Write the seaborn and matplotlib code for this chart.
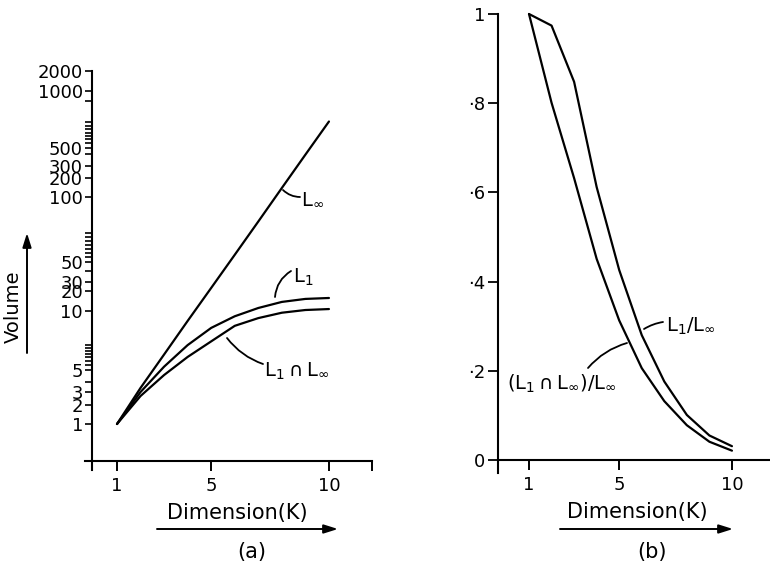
import numpy as np
import matplotlib
matplotlib.use("Agg")
import matplotlib.pyplot as plt
from matplotlib.text import Annotation
import seaborn as sns

# ---------------- data ----------------
K = [1, 2, 3, 4, 5, 6, 7, 8, 9, 10]
L_INF = [1.0, 3.3, 6.0, 8.9, 23.0, 54.0, 77.0, 139.0, 414.0, 690.0]
L_ONE = [1.0, 3.0, 5.2, 6.7, 8.2, 9.4, 11.1, 13.7, 15.2, 15.7]
L_CAP = [1.0, 2.65, 4.45, 5.83, 7.0, 8.4, 9.2, 9.8, 10.35, 10.7]

R_ONE = [1.0, 0.974, 0.848, 0.612, 0.426, 0.280, 0.176, 0.101, 0.055, 0.031]
R_CAP = [1.0, 0.801, 0.632, 0.451, 0.313, 0.206, 0.132, 0.078, 0.041, 0.021]

VOL_TICKS = [1, 2, 3, 5, 10, 20, 30, 50, 100, 200, 300, 500, 1000, 2000]
VOL_LABELS = ["1", "2", "3", "5", "10", "20", "30", "50", "100", "200",
              "300", "500", "1000", "2000"]
X_TICKS = [1, 5, 10]
X_LABELS = ["1", "5", "10"]
R_TICKS = [0, 0.2, 0.4, 0.6, 0.8, 1.0]
R_LABELS = ["0", "\u00b72", "\u00b74", "\u00b76", "\u00b78", "1"]

# ---------------- hand-drawn volume axis (layout) ----------------
AX_VALS = np.array([0.1, 1, 2, 3, 5, 10, 20, 30, 50, 100, 200, 300, 500,
                    1000, 2000, 20000], float)
AX_LOG = np.log10(AX_VALS)
AX_PIX = np.array([538, 424, 405, 392, 370, 311, 291, 282, 262, 197, 178,
                   166, 148, 91, 71, 20], float)
MINOR_PIX = np.array([345, 348, 351, 354, 357, 361, 365, 382,
                      233, 237, 241, 245, 249, 253, 257, 271,
                      101, 122, 126, 129, 133, 136, 139, 143, 154], float)


def fwd(v):
    v = np.clip(np.asarray(v, float), 1e-9, None)
    return np.interp(np.log10(v), AX_LOG, -AX_PIX)


def inv(u):
    return 10 ** np.interp(np.asarray(u, float), -AX_PIX, AX_LOG)


sns.set_theme(style="white")
plt.rcParams["font.family"] = ["DejaVu Sans"]
plt.rcParams["mathtext.fontset"] = "dejavusans"
plt.rcParams["mathtext.default"] = "regular"
for key in ("text.color", "axes.labelcolor", "xtick.color", "ytick.color",
            "axes.edgecolor"):
    plt.rcParams[key] = "black"

W, H = 770, 563
fig = plt.figure(figsize=(W / 100, H / 100), dpi=100)
fig.patch.set_facecolor("white")


def P(x, y):
    return (x / W, 1 - y / H)


LW = 1.6
FS = 13

# ---------------- panel (a) ----------------
axL = fig.add_axes([85 / W, (H - 470) / H, 287 / W, 399 / H])
axL.patch.set_visible(False)
axL.set_yscale("function", functions=(fwd, inv))
for ys in (L_INF, L_ONE, L_CAP):
    sns.lineplot(x=K, y=ys, ax=axL, color="black", lw=LW, sort=False)
axL.set_xlim(-0.3588, 11.828)
axL.set_ylim(float(inv(-470)), 2000)
axL.spines[["top", "right"]].set_visible(False)
axL.spines["left"].set_position(("data", -0.0616))
axL.spines["bottom"].set_position(("data", float(inv(-461))))
for s in ("left", "bottom"):
    axL.spines[s].set_color("black")
    axL.spines[s].set_linewidth(1.5)
axL.set_xticks(X_TICKS + [11.828])
axL.set_xticklabels(X_LABELS + [""])
axL.set_yticks(VOL_TICKS)
axL.set_yticklabels(VOL_LABELS)
axL.set_yticks(inv(-MINOR_PIX), minor=True)
axL.yaxis.set_minor_formatter(matplotlib.ticker.NullFormatter())
axL.tick_params(axis="x", direction="out", length=7.5, width=1.4, pad=4,
                labelsize=FS, colors="black", bottom=True)
axL.tick_params(axis="y", which="both", direction="out", length=5, width=1.2,
                pad=1.5, labelsize=FS, colors="black", left=True)
axL.set_xlabel("")
axL.set_ylabel("")
for ln in axL.lines:
    ln.set_clip_on(False)

# ---------------- panel (b) ----------------
axR = fig.add_axes([498 / W, (H - 473) / H, 272 / W, 459 / H])
axR.patch.set_visible(False)
for ys in (R_ONE, R_CAP):
    sns.lineplot(x=K, y=ys, ax=axR, color="black", lw=LW, sort=False)
axR.set_xlim(-0.3747, 11.687)
axR.set_ylim(-0.0291, 1.0)
axR.spines[["top", "right"]].set_visible(False)
axR.spines["bottom"].set_position(("data", 0))
for s in ("left", "bottom"):
    axR.spines[s].set_color("black")
    axR.spines[s].set_linewidth(1.5)
axR.set_xticks(X_TICKS)
axR.set_xticklabels(X_LABELS)
axR.set_yticks(R_TICKS)
axR.set_yticklabels(R_LABELS)
axR.tick_params(axis="x", direction="out", length=7.5, width=1.4, pad=4,
                labelsize=FS, colors="black", bottom=True)
axR.tick_params(axis="y", direction="out", length=7, width=1.3, pad=2,
                labelsize=FS, colors="black", left=True)
axR.set_xlabel("")
axR.set_ylabel("")
for ln in axR.lines:
    ln.set_clip_on(False)


# ---------------- axis titles and arrows ----------------
def fig_line(p0, p1, props):
    ann = Annotation("", xy=P(*p1), xytext=P(*p0), xycoords="figure fraction",
                     textcoords="figure fraction", arrowprops=props)
    fig.add_artist(ann)


arrow = dict(arrowstyle="-|>,head_length=0.7,head_width=0.22", lw=1.4,
             color="black", shrinkA=0, shrinkB=0)
fig.text(*P(237, 513), "Dimension(K)", ha="center", va="center", fontsize=15)
fig_line((157, 529), (338, 529), arrow)
fig.text(*P(252, 552), "(a)", ha="center", va="center", fontsize=15)

fig.text(*P(637, 512), "Dimension(K)", ha="center", va="center", fontsize=15)
fig_line((560, 529), (733, 529), arrow)
fig.text(*P(652, 552), "(b)", ha="center", va="center", fontsize=15)

fig.text(*P(13, 307), "Volume", ha="center", va="center", rotation=90,
         fontsize=14)
fig_line((27, 353), (27, 233), arrow)

# ---------------- curve labels with leader lines ----------------


def leader(p0, p1, rad):
    d = dict(arrowstyle="-", lw=1.3, color="black", shrinkA=0, shrinkB=0,
             connectionstyle=f"arc3,rad={rad}")
    fig_line(p0, p1, d)


fig.text(*P(301, 199), r"$L_{\infty}$", ha="left", va="center", fontsize=FS + 1)
leader((283, 190), (300, 197), 0.2)
fig.text(*P(293, 277), r"$L_1$", ha="left", va="center", fontsize=FS + 1)
leader((275, 297), (291, 271), -0.25)
fig.text(*P(264, 371), r"$L_1\cap L_{\infty}$", ha="left", va="center",
         fontsize=FS + 1)
leader((227, 338), (263, 364), 0.15)

fig.text(*P(666, 326), r"$L_1/L_{\infty}$", ha="left", va="center",
         fontsize=FS + 1)
leader((644, 329), (663, 322), -0.1)
fig.text(*P(507, 384), r"$(L_1\cap L_{\infty})/L_{\infty}$", ha="left",
         va="center", fontsize=FS + 1)
leader((588, 368), (627, 343), -0.15)

fig.savefig("out.png", dpi=100, facecolor="white")
